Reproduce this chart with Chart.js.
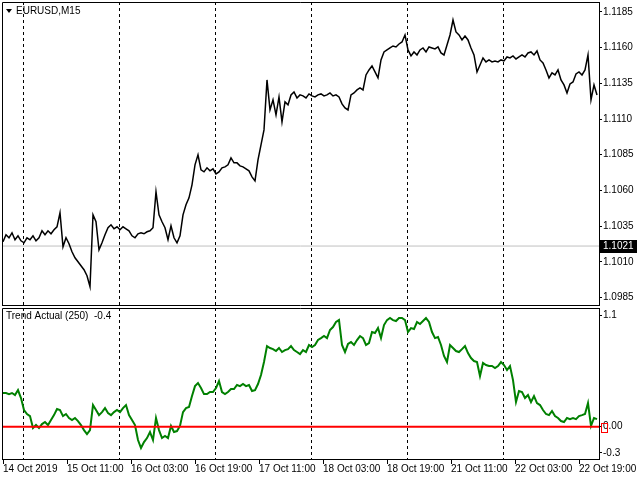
<!DOCTYPE html>
<html>
<head>
<meta charset="utf-8">
<script src="https://cdn.jsdelivr.net/npm/chart.js@4.4.1/dist/chart.umd.min.js"></script>
<style>
  html, body { margin: 0; padding: 0; background: #fff; }
  #wrap { position: relative; width: 640px; height: 480px; overflow: hidden; }
  canvas { position: absolute; left: 0; }
  #priceChart { top: 0; }
  #trendChart { top: 307px; }
</style>
</head>
<body>
<div id="wrap">
  <canvas id="priceChart" width="640" height="306"></canvas>
  <canvas id="trendChart" width="640" height="173"></canvas>
</div>
<script>
const symbolTitle = 'EURUSD,M15';
const indicatorTitle = 'Trend Actual (250)  -0.4';

// one sample every 3 M15 bars, first visible bar = 14 Oct 19:00
const barStep = 3;
const firstBar = 1;
const barsInWindow = 597;

const priceClose = [
  1.10240, 1.10289, 1.10268, 1.10303, 1.10254, 1.10282, 1.10247, 1.10233, 1.10268, 1.10254,
  1.10282, 1.10247, 1.10268, 1.10317, 1.10289, 1.10317, 1.10296, 1.10324, 1.10345, 1.10443,
  1.10205, 1.10268, 1.10226, 1.10170, 1.10128, 1.10100, 1.10072, 1.10044, 1.10002, 1.09925,
  1.10429, 1.10380, 1.10184, 1.10233, 1.10289, 1.10338, 1.10359, 1.10331, 1.10345, 1.10324,
  1.10345, 1.10331, 1.10317, 1.10282, 1.10268, 1.10296, 1.10303, 1.10296, 1.10310, 1.10317,
  1.10338, 1.10590, 1.10429, 1.10380, 1.10338, 1.10254, 1.10352, 1.10268, 1.10233, 1.10282,
  1.10429, 1.10499, 1.10548, 1.10639, 1.10779, 1.10849, 1.10744, 1.10730, 1.10758, 1.10737,
  1.10751, 1.10716, 1.10730, 1.10758, 1.10765, 1.10779, 1.10828, 1.10793, 1.10793, 1.10772,
  1.10765, 1.10751, 1.10737, 1.10695, 1.10667, 1.10814, 1.10919, 1.11024, 1.11374, 1.11164,
  1.11234, 1.11129, 1.11255, 1.11080, 1.11220, 1.11199, 1.11269, 1.11290, 1.11248, 1.11269,
  1.11262, 1.11248, 1.11276, 1.11262, 1.11255, 1.11269, 1.11276, 1.11262, 1.11269, 1.11283,
  1.11262, 1.11269, 1.11255, 1.11206, 1.11178, 1.11164, 1.11269, 1.11283, 1.11304, 1.11318,
  1.11304, 1.11409, 1.11444, 1.11472, 1.11430, 1.11388, 1.11514, 1.11570, 1.11584, 1.11598,
  1.11612, 1.11605, 1.11626, 1.11640, 1.11689, 1.11584, 1.11542, 1.11570, 1.11549, 1.11584,
  1.11598, 1.11570, 1.11605, 1.11598, 1.11591, 1.11605, 1.11563, 1.11549, 1.11619, 1.11689,
  1.11794, 1.11710, 1.11689, 1.11654, 1.11682, 1.11654, 1.11598, 1.11549, 1.11430, 1.11479,
  1.11528, 1.11500, 1.11514, 1.11500, 1.11507, 1.11500, 1.11514, 1.11507, 1.11535, 1.11528,
  1.11542, 1.11521, 1.11535, 1.11549, 1.11535, 1.11563, 1.11570, 1.11549, 1.11577, 1.11514,
  1.11493, 1.11444, 1.11388, 1.11423, 1.11409, 1.11444, 1.11374, 1.11339, 1.11283, 1.11346,
  1.11360, 1.11416, 1.11430, 1.11409, 1.11444, 1.11549, 1.11234, 1.11339, 1.11269
];

const trendActual = [
  0.312, 0.312, 0.302, 0.312, 0.293, 0.339, 0.265, 0.154, 0.117, 0.098,
  -0.013, 0.015, -0.013, 0.024, 0.043, 0.015, 0.061, 0.107, 0.163, 0.154,
  0.098, 0.117, 0.080, 0.061, 0.080, 0.052, 0.015, -0.032, -0.069, -0.032,
  0.200, 0.154, 0.107, 0.135, 0.172, 0.126, 0.107, 0.135, 0.154, 0.135,
  0.172, 0.200, 0.107, 0.061, 0.015, -0.124, -0.198, -0.143, -0.106, -0.050,
  -0.124, 0.080, -0.032, -0.106, -0.087, -0.106, 0.006, -0.050, -0.041, 0.006,
  0.135, 0.172, 0.182, 0.284, 0.376, 0.404, 0.358, 0.302, 0.302, 0.321,
  0.321, 0.358, 0.423, 0.321, 0.302, 0.321, 0.349, 0.349, 0.386, 0.376,
  0.395, 0.376, 0.386, 0.330, 0.339, 0.395, 0.478, 0.599, 0.747, 0.729,
  0.719, 0.701, 0.729, 0.692, 0.710, 0.719, 0.747, 0.710, 0.692, 0.673,
  0.710, 0.692, 0.757, 0.738, 0.757, 0.803, 0.821, 0.840, 0.821, 0.896,
  0.923, 0.970, 0.988, 0.757, 0.692, 0.766, 0.784, 0.757, 0.803, 0.840,
  0.821, 0.757, 0.775, 0.877, 0.868, 0.914, 0.821, 0.942, 0.988, 1.007,
  0.988, 0.979, 1.007, 1.007, 0.988, 0.877, 0.914, 0.905, 0.970, 0.951,
  0.979, 1.007, 0.970, 0.877, 0.821, 0.831, 0.757, 0.655, 0.599, 0.757,
  0.729, 0.701, 0.692, 0.719, 0.747, 0.682, 0.636, 0.608, 0.599, 0.469,
  0.590, 0.571, 0.562, 0.562, 0.543, 0.562, 0.599, 0.571, 0.525, 0.562,
  0.432, 0.228, 0.330, 0.321, 0.265, 0.293, 0.228, 0.284, 0.219, 0.200,
  0.154, 0.117, 0.107, 0.145, 0.098, 0.080, 0.052, 0.043, 0.080, 0.070,
  0.080, 0.070, 0.098, 0.107, 0.117, 0.219, 0.006, 0.080, 0.070
];

const priceTicks = [1.1185, 1.1160, 1.1135, 1.1110, 1.1085, 1.1060, 1.1035, 1.1010, 1.0985];
const priceMin = 1.0979;
const priceMax = 1.1192;
const priceMarker = 1.1021;

const trendTicks = [1.1, 0, -0.3];
const trendTickLabels = ['1.1', '0.00', '-0.3'];
const trendMin = -0.3;
const trendMax = 1.1;
const trendLevel = 0;

const timeTickBars = [1, 65, 129, 193, 257, 321, 385, 449, 513, 577];
const timeTickLabels = ['14 Oct 2019', '15 Oct 11:00', '16 Oct 03:00', '16 Oct 19:00', '17 Oct 11:00',
  '18 Oct 03:00', '18 Oct 19:00', '21 Oct 11:00', '22 Oct 03:00', '22 Oct 19:00'];
const daySeparatorBars = [21, 117, 213, 309, 405, 501];

const FONT = '"Liberation Sans", Arial, sans-serif';
Chart.defaults.font.family = FONT;
Chart.defaults.font.size = 10;
Chart.defaults.color = '#000';

const toPoints = arr => arr.map((v, i) => ({ x: firstBar + i * barStep, y: v }));
const flatLine = v => [{ x: 0, y: v }, { x: barsInWindow, y: v }];

// dashed day separators + the left/top(/bottom) frame of a panel
const panelFrame = {
  id: 'panelFrame',
  beforeDatasetsDraw(chart) {
    const { ctx, chartArea: a } = chart;
    const x = chart.scales.x;
    ctx.save();
    ctx.strokeStyle = '#000';
    ctx.lineWidth = 1;
    ctx.setLineDash([3, 3]);
    daySeparatorBars.forEach(b => {
      const px = Math.round(x.getPixelForValue(b)) + 0.5;
      ctx.beginPath();
      ctx.moveTo(px, a.top);
      ctx.lineTo(px, a.bottom);
      ctx.stroke();
    });
    ctx.restore();
  },
  afterDraw(chart, args, opts) {
    const { ctx, chartArea: a } = chart;
    ctx.save();
    ctx.strokeStyle = '#000';
    ctx.lineWidth = 1;
    ctx.beginPath();
    ctx.moveTo(a.left + 0.5, a.bottom);
    ctx.lineTo(a.left + 0.5, a.top + 0.5);
    ctx.lineTo(a.right, a.top + 0.5);
    if (opts.bottom) {
      ctx.moveTo(a.left, a.bottom - 0.5);
      ctx.lineTo(a.right, a.bottom - 0.5);
    }
    ctx.stroke();
    ctx.restore();
  }
};

const priceExtras = {
  id: 'priceExtras',
  afterDraw(chart) {
    const { ctx } = chart;
    const y = chart.scales.y;
    ctx.save();
    // symbol caption
    ctx.fillStyle = '#000';
    ctx.beginPath();
    ctx.moveTo(6, 9); ctx.lineTo(12, 9); ctx.lineTo(9, 13); ctx.closePath();
    ctx.fill();
    ctx.font = '10px ' + FONT;
    ctx.textBaseline = 'middle';
    ctx.fillText(symbolTitle, 16, 11);
    // price marker on the axis
    const py = Math.round(y.getPixelForValue(priceMarker));
    ctx.fillRect(600, py - 6, 37, 13);
    ctx.fillStyle = '#fff';
    ctx.fillText(priceMarker.toFixed(4), 603, py + 0.5);
    ctx.restore();
  }
};

const trendExtras = {
  id: 'trendExtras',
  afterDraw(chart) {
    const { ctx } = chart;
    const y = chart.scales.y;
    ctx.save();
    ctx.fillStyle = '#000';
    ctx.font = '10px ' + FONT;
    ctx.textBaseline = 'middle';
    ctx.fillText(indicatorTitle, 6, 9);
    const ly = Math.round(y.getPixelForValue(trendLevel));
    ctx.strokeStyle = '#ff0000';
    ctx.lineWidth = 1;
    ctx.strokeRect(601.5, ly - 3.5, 6, 9);
    ctx.restore();
  }
};

const rightAxis = (min, max) => ({
  position: 'right',
  min, max,
  afterFit: s => { s.width = 41; s.paddingTop = 0; s.paddingBottom = 0; },
  grid: { drawOnChartArea: false, tickLength: 3, color: '#000' },
  border: { color: '#000', width: 1 },
});

new Chart(document.getElementById('priceChart'), {
  type: 'line',
  data: {
    datasets: [
      { data: toPoints(priceClose), borderColor: '#000', borderWidth: 1.5, pointRadius: 0, tension: 0 },
      { data: flatLine(priceMarker), borderColor: '#c0c0c0', borderWidth: 1, pointRadius: 0 },
    ],
  },
  options: {
    responsive: false,
    animation: false,
    events: [],
    layout: { padding: { left: 2, top: 2, right: 0, bottom: 0 } },
    plugins: { legend: { display: false }, tooltip: { enabled: false }, panelFrame: { bottom: true } },
    scales: {
      x: { type: 'linear', min: 0, max: barsInWindow, display: false },
      y: {
        ...rightAxis(priceMin, priceMax),
        afterBuildTicks: s => { s.ticks = priceTicks.map(v => ({ value: v })); },
        ticks: { padding: 1, autoSkip: false, callback: v => v.toFixed(4) },
      },
    },
  },
  plugins: [panelFrame, priceExtras],
});

new Chart(document.getElementById('trendChart'), {
  type: 'line',
  data: {
    datasets: [
      { data: flatLine(trendLevel), borderColor: '#ff0000', borderWidth: 2, pointRadius: 0 },
      { data: toPoints(trendActual), borderColor: '#008000', borderWidth: 2, pointRadius: 0, tension: 0 },
    ],
  },
  options: {
    responsive: false,
    animation: false,
    events: [],
    layout: { padding: { left: 2, top: 1, right: 0, bottom: 0 } },
    plugins: { legend: { display: false }, tooltip: { enabled: false }, panelFrame: { bottom: false } },
    scales: {
      x: {
        type: 'linear', min: 0, max: barsInWindow,
        afterBuildTicks: s => { s.ticks = timeTickBars.map(v => ({ value: v })); },
        afterFit: s => { s.height = 21; s.paddingLeft = 0; s.paddingRight = 0; },
        ticks: { align: 'start', maxRotation: 0, autoSkip: false, padding: -1,
                 callback: (v, i) => timeTickLabels[i] },
        grid: { drawOnChartArea: false, tickLength: 5, color: '#000' },
        border: { color: '#000', width: 1 },
      },
      y: {
        ...rightAxis(trendMin, trendMax),
        // MetaTrader prints the window's max/min labels a little inside the edges
        afterBuildTicks: s => {
          const span = s.max - s.min;
          const hi = s.max - span * 0.05;
          const lo = s.min + span * 0.04;
          s.ticks = trendTicks.map(v => ({ value: Math.min(hi, Math.max(lo, v)) }));
        },
        ticks: { padding: 1, autoSkip: false, callback: (v, i) => trendTickLabels[i] },
      },
    },
  },
  plugins: [panelFrame, trendExtras],
});
</script>
</body>
</html>
